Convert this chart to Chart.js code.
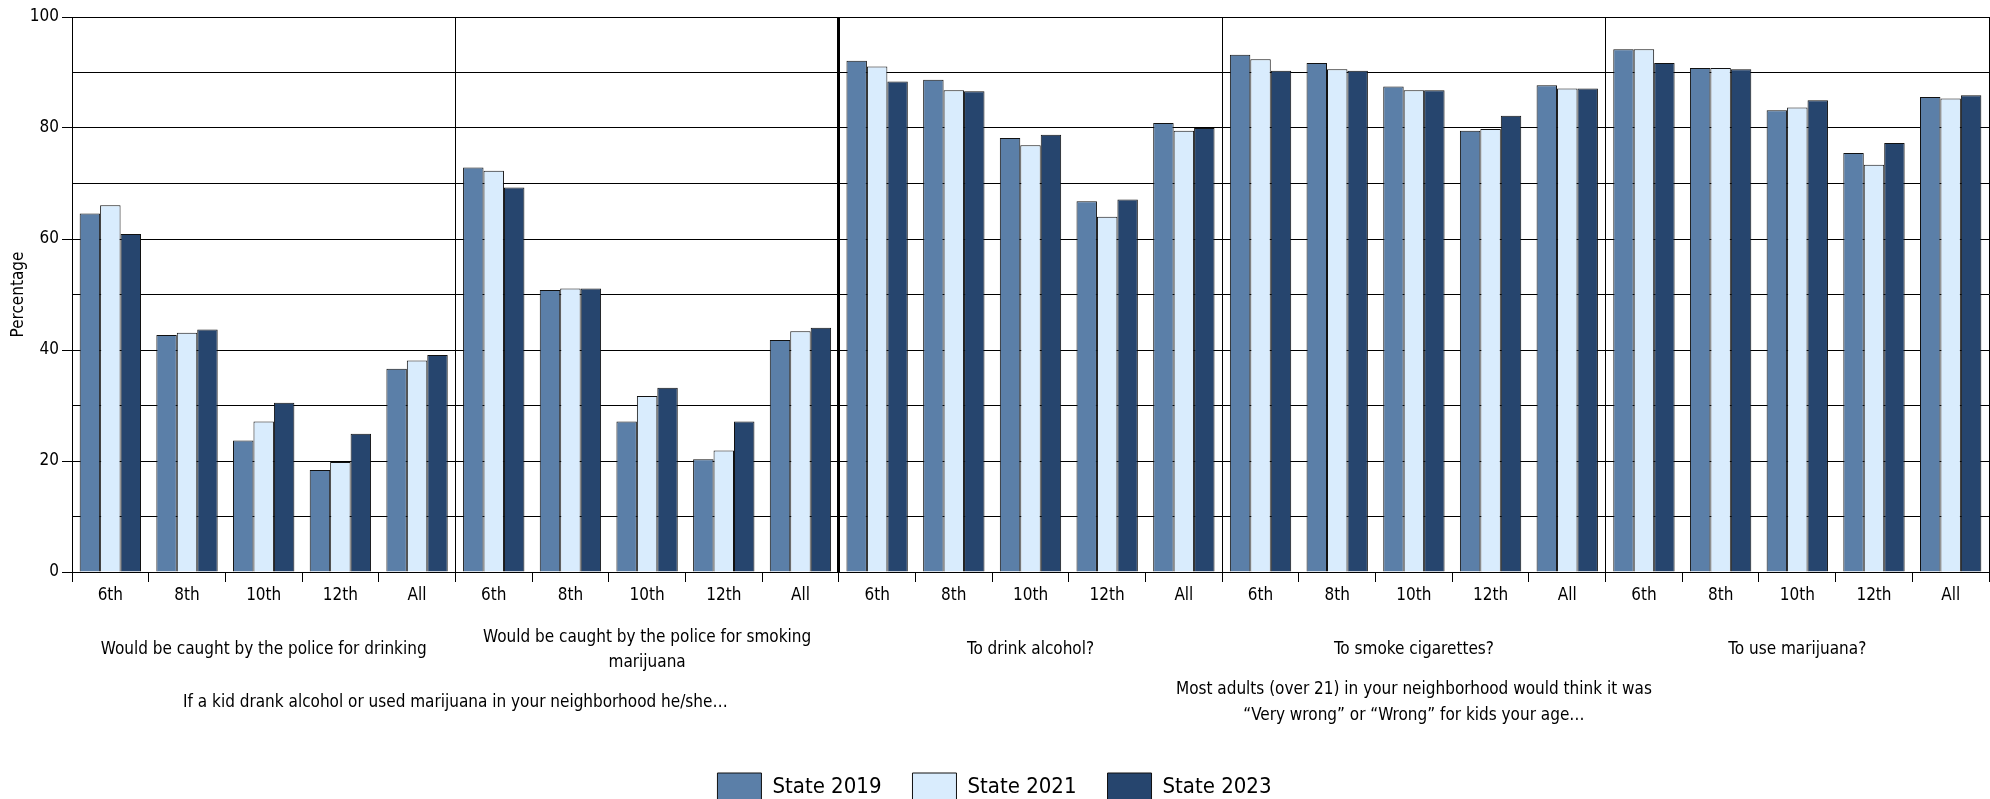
<!DOCTYPE html>
<html><head><meta charset="utf-8">
<script src="https://cdn.jsdelivr.net/npm/chart.js@4/dist/chart.umd.min.js"></script>
<style>html,body{margin:0;padding:0;background:#fff;overflow:hidden}#wrap{width:1990px;height:799px}</style>
</head><body><div id="wrap"><canvas id="c" width="1990" height="799"></canvas></div>
<script>
const grades = ['6th', '8th', '10th', '12th', 'All'];
const questions = [
  ['Would be caught by the police for drinking'],
  ['Would be caught by the police for smoking', 'marijuana'],
  ['To drink alcohol?'],
  ['To smoke cigarettes?'],
  ['To use marijuana?']
];
const sectionTitles = [
  ['If a kid drank alcohol or used marijuana in your neighborhood he/she…'],
  ['Most adults (over 21) in your neighborhood would think it was', '“Very wrong” or “Wrong” for kids your age…']
];
const sectionQuestions = [[0, 1], [2, 3, 4]];
const seriesNames = ['State 2019', 'State 2021', 'State 2023'];
const state2019 = [64.6, 42.7, 23.7, 18.4, 36.6,  72.9, 50.8, 27.1, 20.3, 41.8,  92.1, 88.7, 78.2, 66.8, 80.9,  93.2, 91.7, 87.5, 79.5, 87.7,  94.2, 90.8, 83.2, 75.5, 85.6];
const state2021 = [66.1, 43.1, 27.1, 19.8, 38.1,  72.3, 51.1, 31.7, 21.9, 43.4,  91.1, 86.8, 76.9, 64.0, 79.5,  92.4, 90.6, 86.8, 79.8, 87.1,  94.2, 90.8, 83.7, 73.4, 85.3];
const state2023 = [60.9, 43.7, 30.5, 24.9, 39.1,  69.3, 51.1, 33.2, 27.1, 44.0,  88.4, 86.6, 78.8, 67.1, 80.0,  90.3, 90.3, 86.8, 82.2, 87.1,  91.7, 90.6, 85.0, 77.3, 85.9];
const yTicks = [0, 20, 40, 60, 80, 100];

const FONT = "'DejaVu Sans Condensed', 'Liberation Sans Narrow', sans-serif";
Chart.defaults.color = '#000';
Chart.defaults.font.family = FONT;

const labels = [];
questions.forEach(() => grades.forEach(g => labels.push(g)));
const colors = ['#5b7fa8', '#d9ecfd', '#26456e'];
const values = [state2019, state2021, state2023];

const groupLabelPlugin = {
  id: 'groupLabels',
  afterDraw(chart) {
    const ctx = chart.ctx, xs = chart.scales.x, bottom = chart.chartArea.bottom;
    const n = grades.length;
    const center = (q) => (xs.getPixelForValue(q * n) + xs.getPixelForValue(q * n + n - 1)) / 2;
    ctx.save();
    ctx.fillStyle = '#000';
    ctx.textAlign = 'center';
    ctx.textBaseline = 'middle';
    ctx.font = "17px " + FONT;
    questions.forEach((lines, q) => {
      const cx = center(q);
      const lh = 25;
      const y0 = bottom + 78 - (lines.length - 1) * lh / 2;
      lines.forEach((t, i) => ctx.fillText(t, cx, y0 + i * lh));
    });
    sectionTitles.forEach((lines, s) => {
      const qs = sectionQuestions[s];
      const cx = (center(qs[0]) + center(qs[qs.length - 1])) / 2;
      const lh = 26;
      const y0 = bottom + 131 - (lines.length - 1) * lh / 2;
      lines.forEach((t, i) => ctx.fillText(t, cx, y0 + i * lh));
    });
    ctx.restore();
  }
};

new Chart(document.getElementById('c'), {
  type: 'bar',
  data: {
    labels: labels,
    datasets: values.map((v, i) => ({
      label: seriesNames[i],
      data: v,
      backgroundColor: colors[i],
      borderColor: '#111',
      borderWidth: 1,
      categoryPercentage: 0.8,
      barPercentage: 1.0
    }))
  },
  options: {
    responsive: false,
    animation: false,
    events: [],
    layout: { padding: { top: 17, right: 1, left: 0, bottom: 0 } },
    plugins: {
      tooltip: { enabled: false },
      legend: {
        position: 'bottom',
        maxHeight: 57,
        labels: {
          boxWidth: 44,
          boxHeight: 28,
          padding: 31,
          color: '#000',
          font: { size: 22, family: FONT }
        }
      }
    },
    scales: {
      x: {
        afterFit(scale) { scale.height = 170; },
        border: { display: true, color: '#000', width: 1 },
        grid: {
          offset: true,
          drawOnChartArea: true,
          color: (c) => (c.index === undefined || c.index % 5 === 0) ? '#000' : 'rgba(0,0,0,0)',
          lineWidth: (c) => (c.index === 10 ? 3 : 1),
          tickColor: '#000',
          tickWidth: 1,
          tickLength: 10
        },
        ticks: {
          autoSkip: false,
          maxRotation: 0,
          minRotation: 0,
          padding: 3,
          color: '#000',
          font: { size: 17, family: FONT }
        }
      },
      y: {
        min: 0,
        max: 100,
        afterFit(scale) { scale.width = 72; },
        border: { display: true, color: '#000', width: 1 },
        grid: {
          color: '#000',
          lineWidth: 1,
          tickLength: 10,
          tickColor: (c) => (c.tick && yTicks.includes(c.tick.value)) ? '#000' : 'rgba(0,0,0,0)'
        },
        ticks: {
          stepSize: 10,
          padding: 3,
          color: '#000',
          font: { size: 17, family: FONT },
          callback: (v) => yTicks.includes(v) ? String(v) : ''
        },
        title: {
          display: true,
          text: 'Percentage',
          color: '#000',
          padding: { top: 8, bottom: 0 },
          font: { size: 17, family: FONT }
        }
      }
    }
  },
  plugins: [groupLabelPlugin]
});
</script>
</body></html>
